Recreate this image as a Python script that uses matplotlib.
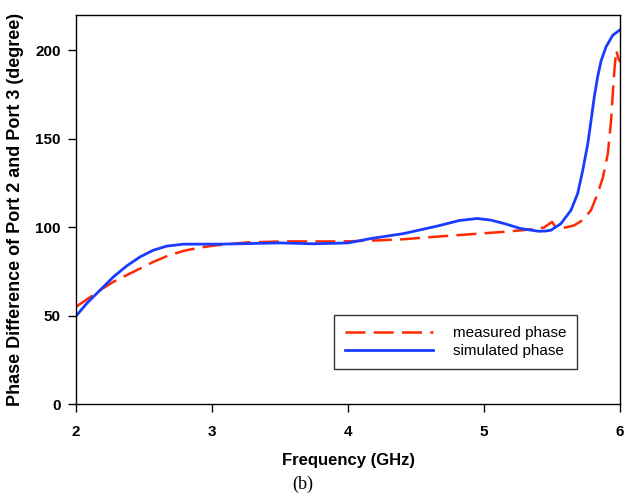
import numpy as np
import matplotlib
matplotlib.use('Agg')
from matplotlib import pyplot as plt

# simulated phase
sim_f = [2.0, 2.079, 2.177, 2.275, 2.373, 2.471, 2.569, 2.668, 2.79, 3.06, 3.25, 3.5,
         3.75, 4.0, 4.17, 4.41, 4.66, 4.82, 4.95, 5.05, 5.15, 5.27, 5.4, 5.45, 5.492,
         5.565, 5.639, 5.688, 5.725, 5.762, 5.786, 5.81, 5.835, 5.86, 5.897, 5.946, 6.0]
sim_p = [49.7, 56.9, 64.4, 71.9, 78.1, 83.2, 87, 89.3, 90.4, 90.4, 90.7, 91.1,
         90.6, 91.1, 93.6, 96.4, 100.7, 103.8, 104.9, 104, 102, 99.2, 97.7, 97.8, 98.3,
         102, 109.6, 119, 132, 147, 160, 173.6, 185, 194, 202, 208.5, 211.6]

# measured phase
mea_f = [2.0, 2.079, 2.177, 2.275, 2.373, 2.471, 2.569, 2.668, 2.79, 2.913, 3.036,
         3.26, 3.55, 3.78, 4.0, 4.24, 4.41, 4.66, 4.9, 5.15, 5.34, 5.44, 5.5, 5.53,
         5.565, 5.663, 5.725, 5.786, 5.835, 5.873, 5.91, 5.934, 5.946, 5.958, 5.971,
         5.988, 6.0]
mea_p = [55, 59.1, 64.4, 69.1, 72.9, 76.6, 80.4, 83.6, 86.6, 88.5, 89.8,
         91.4, 92, 91.9, 92, 92.6, 93.2, 94.7, 96, 97.4, 98.7, 99.8, 103, 99.5,
         99.2, 101, 104, 109.6, 119, 128, 141.6, 160.5, 175.5, 188.7, 200,
         195.3, 193.4]

xticks = [2, 3, 4, 5, 6]
yticks = [0, 50, 100, 150, 200]

plt.rcParams['font.family'] = ['Liberation Sans', 'DejaVu Sans']

fig = plt.figure(figsize=(6.27, 4.97), dpi=100)
ax = fig.add_axes([0.1212, 0.187, 0.8678, 0.783])

ax.plot(mea_f, mea_p, color='#ff2a00', lw=1.8, dashes=(8, 3.3), label='measured phase')
ax.plot(sim_f, sim_p, color='#1a3cff', lw=2.0, label='simulated phase')

ax.set_xlim(2, 6)
ax.set_ylim(0, 220)
ax.set_xticks(xticks)
ax.set_yticks(yticks)
ax.tick_params(direction='out', length=6, width=1, labelsize=11)
ax.tick_params(axis='x', pad=9)
ax.tick_params(axis='y', pad=5)
for lab in ax.get_xticklabels() + ax.get_yticklabels():
    lab.set_fontweight('bold')
for s in ax.spines.values():
    s.set_linewidth(1.0)

ax.set_xlabel('Frequency (GHz)', fontsize=12, fontweight='bold', labelpad=10)
ax.set_ylabel('Phase Difference of Port 2 and Port 3 (degree)', fontsize=13,
              fontweight='bold', labelpad=8)

leg = ax.legend(loc='lower left', bbox_to_anchor=(0.474, 0.09), borderaxespad=0,
                fontsize=11, handlelength=5.75, handletextpad=1.3,
                fancybox=False, edgecolor='black', borderpad=0.72, labelspacing=0.26)
leg.get_frame().set_linewidth(1.0)

fig.text(0.483, 0.016, '(b)', ha='center', fontsize=13, family='Liberation Serif')

plt.savefig('out.png', dpi=100)
